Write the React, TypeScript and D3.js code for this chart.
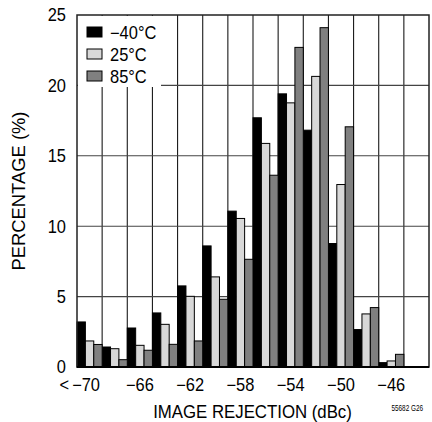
import * as d3 from "d3"
import type { ReactNode } from "react"

// bin centers in dBc; first bin is "< -70"
const BINS = [-70, -68, -66, -64, -62, -60, -58, -56, -54, -52, -50, -48, -46, -44]
const X_TICKS = [-70, -66, -62, -58, -54, -50, -46]
const Y_TICKS = [0, 5, 10, 15, 20, 25]

const SERIES_NAMES = ["−40°C", "25°C", "85°C"]
const COLD = [3.2, 1.42, 2.77, 3.84, 5.76, 8.6, 11.07, 17.7, 19.4, 16.82, 8.77, 2.66, 0.31, 0]
const ROOM = [1.85, 1.3, 1.54, 3.03, 5.02, 6.4, 10.55, 15.88, 18.76, 20.64, 12.96, 3.77, 0.43, 0]
const HOT = [1.6, 0.52, 1.19, 1.61, 1.85, 4.81, 7.65, 13.62, 22.7, 24.1, 17.06, 4.22, 0.9, 0]

const FILLS = ["#000000", "#d8d8d8", "#808080"]
const FONT = "'Liberation Sans', Arial, sans-serif"
const FS = 17.5

const W = 432
const H = 422
const M = { left: 77, right: 3, top: 15, bottom: 55 }

// slightly condensed text, like the narrow face used in the datasheet
function NText({
  x,
  y,
  anchor = "start",
  size = FS,
  sx = 0.94,
  rotate = 0,
  children,
}: {
  x: number
  y: number
  anchor?: "start" | "middle" | "end"
  size?: number
  sx?: number
  rotate?: number
  children: ReactNode
}) {
  return (
    <text
      transform={`translate(${x},${y}) rotate(${rotate}) scale(${sx},1)`}
      textAnchor={anchor}
      fontSize={size}
      fill="#000"
    >
      {children}
    </text>
  )
}

export default function App() {
  const series = [COLD, ROOM, HOT]
  const x = d3
    .scaleBand<number>()
    .domain(BINS)
    .range([M.left, W - M.right])
  const inner = d3
    .scaleBand<number>()
    .domain([0, 1, 2])
    .range([0, x.bandwidth()])
  const y = d3
    .scaleLinear()
    .domain([0, 25])
    .range([H - M.bottom, M.top])

  const x0 = M.left
  const x1 = W - M.right
  const y0 = y(0)
  const yTop = y(25)

  return (
    <svg
      width={W}
      height={H}
      style={{ position: "absolute", left: 0, top: 0, background: "#fff" }}
      fontFamily={FONT}
    >
      {/* grid */}
      <g stroke="#1a1a1a" strokeWidth={1.1}>
        {BINS.slice(1).map((b) => (
          <line key={b} x1={x(b)} x2={x(b)} y1={yTop} y2={y0} />
        ))}
        {Y_TICKS.slice(1, -1).map((t) => (
          <line key={t} x1={x0} x2={x1} y1={y(t)} y2={y(t)} stroke="#444" />
        ))}
      </g>

      {/* bars */}
      <g stroke="#000" strokeWidth={1}>
        {series.map((vals, si) =>
          vals.map((v, i) =>
            v > 0 ? (
              <rect
                key={`${si}-${i}`}
                x={(x(BINS[i]) ?? 0) + (inner(si) ?? 0)}
                y={y(v)}
                width={inner.bandwidth()}
                height={y0 - y(v)}
                fill={FILLS[si]}
              />
            ) : null
          )
        )}
      </g>

      {/* legend */}
      <rect x={x0 + 1} y={yTop + 1} width={83} height={71} fill="#fff" />
      {SERIES_NAMES.map((name, i) => (
        <g key={name} transform={`translate(${x0 + 10},${yTop + 12 + i * 22})`}>
          <rect width={15} height={10} fill={FILLS[i]} stroke="#000" strokeWidth={1} />
          <NText x={23} y={11.5}>
            {name}
          </NText>
        </g>
      ))}

      {/* frame */}
      <rect x={x0} y={yTop} width={x1 - x0} height={y0 - yTop} fill="none" stroke="#222" strokeWidth={1.5} />
      <line x1={x0} x2={x1} y1={y0} y2={y0} stroke="#000" strokeWidth={2} />

      {/* y ticks */}
      {Y_TICKS.map((t) => (
        <NText key={t} x={66} y={y(t) + 6.3} anchor="end">
          {t}
        </NText>
      ))}

      {/* x ticks */}
      {X_TICKS.map((t) => {
        const cx = (x(t) ?? 0) + x.bandwidth() / 2
        return (
          <g key={t}>
            {t === -70 && (
              <NText x={69} y={391} anchor="end">
                {"<"}
              </NText>
            )}
            <NText x={t === -70 ? cx - 3.5 : cx} y={391} anchor="middle">
              {`−${Math.abs(t)}`}
            </NText>
          </g>
        )
      })}

      {/* axis titles */}
      <NText x={252.5} y={417.5} anchor="middle" sx={0.96}>
        IMAGE REJECTION (dBc)
      </NText>
      <NText x={25} y={(y0 + yTop) / 2} anchor="middle" rotate={-90} sx={1.05}>
        PERCENTAGE (%)
      </NText>
      <NText x={423} y={411} anchor="end" size={8.5} sx={0.75}>
        55682 G26
      </NText>
    </svg>
  )
}
